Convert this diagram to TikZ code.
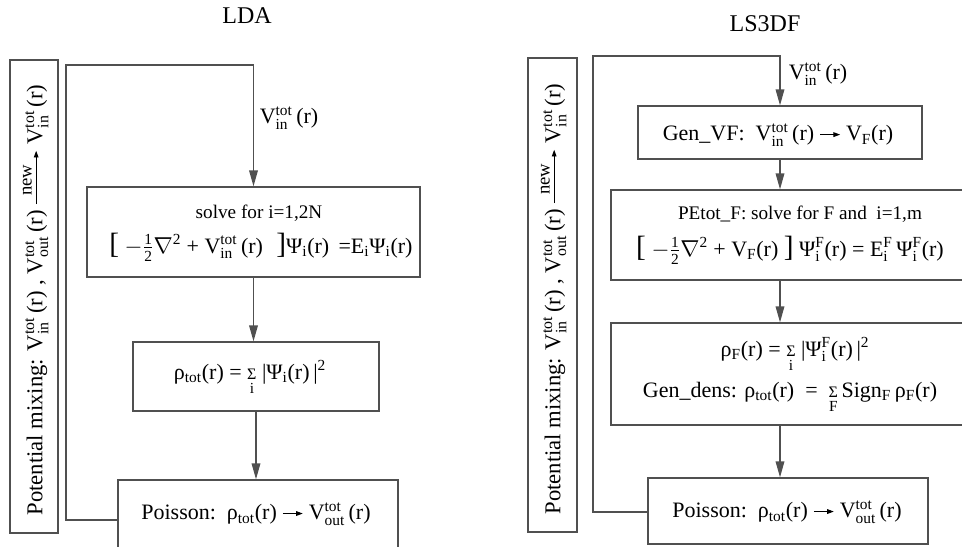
\documentclass[tikz,border=0pt]{standalone}
\usepackage{amsmath}
\usepackage{fontspec}
\setmainfont{Liberation Serif}
\usetikzlibrary{arrows.meta,fit}
\definecolor{ln}{HTML}{505050}
\newcommand\fM{\fontsize{16.5}{19}\selectfont}
\newcommand\fH{\fontsize{14.4}{17}\selectfont}
\newcommand\fR{\fontsize{17}{20}\selectfont}
\newcommand\fT{\fontsize{18}{21}\selectfont}
\newcommand\Vio[2]{V$^{\text{#1}}_{\text{#2}}$\,(r)}
\newcommand\Vin{\Vio{tot}{in}}
\newcommand\Vout{\Vio{tot}{out}}
\newcommand\sbs[1]{$_{\text{#1}}$}
\newcommand\sarr{\tikz[baseline=-0.6ex]\draw[black,line width=0.7pt,-{Triangle[length=5pt,width=3.5pt]}] (0pt,0pt)--(15pt,0pt);}
\newcommand\newarr{\tikz[baseline=-0.6ex]{\draw[black,line width=0.7pt,-{Triangle[length=5pt,width=3.5pt]}] (0pt,0pt)--(40pt,0pt);\path (18pt,2pt) node[above,inner sep=1pt,font=\fontsize{14}{14}\selectfont]{new};}}
\newcommand\sumi[1]{$\mathop{\text{\fontsize{12}{12}\selectfont Σ}}\limits_{\text{#1}}$}
\newcommand\lb{{\fontsize{22}{22}\selectfont[}}
\newcommand\rb{{\fontsize{22}{22}\selectfont]}}
\newcommand\half{$-\frac{\text{1}}{\text{2}}\nabla^{\text{2}}$}
\begin{document}
\begin{tikzpicture}[x=0.75pt,y=-0.75pt,
  font=\fM,
  box/.style={draw=ln,line width=1pt,inner sep=0pt},
  txt/.style={inner sep=0pt,align=center},
  arr/.style={draw=ln,line width=1pt,-{Triangle[length=12pt,width=6.5pt]}},
  ln/.style={draw=ln,line width=1pt}]
\useasboundingbox (0,0) rectangle (962,546);
\clip (0,0) rectangle (962,546);
% ---------------- LDA ----------------
\node[txt,font=\fT] (tLDA) at (247,16) {LDA};
\coordinate (mA1) at (10,60); \coordinate (mA2) at (58,533);
\node[box,fit=(mA1)(mA2)] (mixA) {};
\node[txt,rotate=90,font=\fR] (mixAt) at (35,300) {Potential mixing: \Vin\ , \Vout\ \newarr\ \Vin};
\coordinate (sA1) at (87,187); \coordinate (sA2) at (420,277);
\node[box,fit=(sA1)(sA2)] (solve) {};
\node[txt,font=\fH] (solveT1) at (259,213) {solve for i=1,2N};
\node[txt] (solveT2) at (261,247) {\lb\ \half\ + \Vin\hspace{10pt}\rb Ψ\sbs{i}(r)\hspace{7pt}=E\sbs{i}Ψ\sbs{i}(r)};
\coordinate (rA1) at (133,342); \coordinate (rA2) at (379,411);
\node[box,fit=(rA1)(rA2)] (rhoA) {};
\node[txt] (rhoAT) at (250,378) {ρ\sbs{tot}(r) = \sumi{i}\ |Ψ\sbs{i}(r)\,|$^{\text{2}}$};
\coordinate (pA1) at (118,480); \coordinate (pA2) at (398,580);
\node[box,fit=(pA1)(pA2)] (poisA) {};
\node[txt] (poisAT) at (256,514) {Poisson:\ \ ρ\sbs{tot}(r) \sarr\ \Vout};
\node[txt] (vinA) at (289,118) {\Vin};
\coordinate (cA1) at (66,520); \coordinate (cA2) at (66,65);
\draw[arr] (cA1 -| poisA.west) -- (cA1) -- (cA2) -- (solve.north |- cA2) -- (solve.north);
\draw[arr] (solve.south) -- (solve.south |- rhoA.north);
\draw[arr] (rhoA.south) -- (rhoA.south |- poisA.north);
% ---------------- LS3DF ----------------
\node[txt,font=\fT] (tLS) at (765,24) {LS3DF};
\coordinate (mB1) at (528,58); \coordinate (mB2) at (577,532);
\node[box,fit=(mB1)(mB2)] (mixB) {};
\node[txt,rotate=90,font=\fR] (mixBt) at (553,299) {Potential mixing: \Vin\ , \Vout\ \newarr\ \Vin};
\coordinate (gB1) at (638,106); \coordinate (gB2) at (922,159);
\node[box,fit=(gB1)(gB2)] (genvf) {};
\node[txt] (genvfT) at (778,135) {Gen\_VF:\ \ \Vin\ \sarr\ V\sbs{F}(r)};
\coordinate (eB1) at (611,190); \coordinate (eB2) at (990,280);
\node[box,fit=(eB1)(eB2)] (pet) {};
\node[txt,font=\fH] (petT1) at (800,214) {PEtot\_F: solve for F and\ \ i=1,m};
\node[txt] (petT2) at (790,250) {\lb\ \half\ + V\sbs{F}(r)\ \rb\ Ψ$^{\text{F}}_{\text{i}}$(r) = E$^{\text{F}}_{\text{i}}$\,Ψ$^{\text{F}}_{\text{i}}$(r)};
\coordinate (dB1) at (611,323); \coordinate (dB2) at (990,425);
\node[box,fit=(dB1)(dB2)] (rhoB) {};
\node[txt] (rhoBT1) at (795,355) {ρ\sbs{F}(r) = \sumi{i}\ |Ψ$^{\text{F}}_{\text{i}}$(r)\,|$^{\text{2}}$};
\node[txt] (rhoBT2) at (790,398) {Gen\_dens: ρ\sbs{tot}(r)\ \ =\ \ \sumi{F}\,Sign\sbs{F}\,ρ\sbs{F}(r)};
\coordinate (pB1) at (648,478); \coordinate (pB2) at (928,544);
\node[box,fit=(pB1)(pB2)] (poisB) {};
\node[txt] (poisBT) at (787,512) {Poisson:\ \ ρ\sbs{tot}(r) \sarr\ \Vout};
\node[txt] (vinB) at (818,74) {\Vin};
\coordinate (cB1) at (593,512); \coordinate (cB2) at (593,56);
\draw[arr] (cB1 -| poisB.west) -- (cB1) -- (cB2) -- (genvf.north |- cB2) -- (genvf.north);
\draw[arr] (genvf.south) -- (genvf.south |- pet.north);
\draw[arr] (pet.south -| genvf.south) -- (genvf.south |- rhoB.north);
\draw[arr] (rhoB.south -| genvf.south) -- (genvf.south |- poisB.north);
\end{tikzpicture}
\end{document}
